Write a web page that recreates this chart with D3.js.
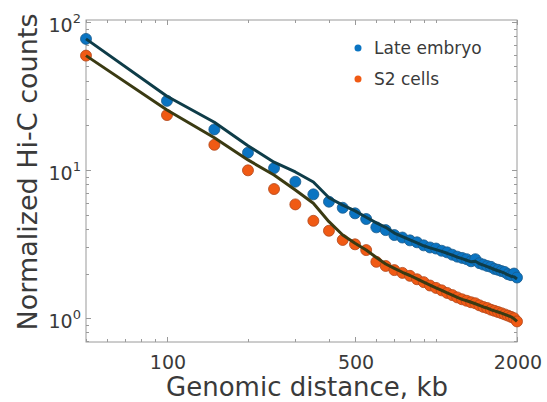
<!DOCTYPE html>
<html>
<head>
<meta charset="utf-8">
<script src="https://cdn.jsdelivr.net/npm/d3@7"></script>
<style>
  body { margin: 0; background: #fff; }
  svg { font-family: "DejaVu Sans", sans-serif; }
</style>
</head>
<body>
<svg width="547" height="402"></svg>
<script>
// genomic distance, kb
const distances = [50, 100, 150, 200, 250, 300, 350, 400, 450, 500,
  550, 600, 650, 700, 750, 800, 850, 900, 950, 1000,
  1050, 1100, 1150, 1200, 1250, 1300, 1350, 1400, 1450, 1500,
  1550, 1600, 1650, 1700, 1750, 1800, 1850, 1900, 1950, 2000];

// measured points
const embryoPts = [76.8, 29.3, 18.8, 13.1, 10.3, 8.34, 6.85, 6.11, 5.56, 5.10,
  4.67, 4.10, 3.93, 3.64, 3.5, 3.35, 3.25, 3.1, 3.0, 2.95,
  2.85, 2.78, 2.68, 2.6, 2.55, 2.5, 2.42, 2.5, 2.35, 2.3,
  2.25, 2.22, 2.15, 2.12, 2.08, 2.05, 1.98, 1.95, 2.0, 1.88];
const s2Pts = [59.2, 23.5, 14.8, 9.95, 7.44, 5.86, 4.54, 3.89, 3.37, 3.15,
  2.88, 2.40, 2.25, 2.11, 2.02, 1.93, 1.83, 1.75, 1.66, 1.6,
  1.54, 1.48, 1.43, 1.38, 1.34, 1.31, 1.28, 1.26, 1.22, 1.19,
  1.17, 1.14, 1.12, 1.1, 1.08, 1.06, 1.04, 1.02, 1.0, 0.95];

// model curves
const embryoFit = [76.8, 31.5, 21.0, 14.6, 11.3, 9.7, 8.3, 6.5, 5.8, 5.3,
  4.8, 4.4, 4.1, 3.75, 3.55, 3.38, 3.22, 3.08, 2.98, 2.9,
  2.82, 2.74, 2.66, 2.58, 2.52, 2.46, 2.4, 2.42, 2.33, 2.28,
  2.23, 2.18, 2.13, 2.09, 2.05, 2.01, 1.96, 1.92, 1.9, 1.84];
const s2Fit = [59.2, 25.4, 16.5, 11.7, 9.25, 7.33, 5.96, 4.48, 3.64, 3.2,
  2.88, 2.57, 2.32, 2.17, 2.04, 1.94, 1.84, 1.75, 1.67, 1.6,
  1.54, 1.48, 1.43, 1.38, 1.34, 1.31, 1.28, 1.25, 1.22, 1.19,
  1.17, 1.14, 1.12, 1.1, 1.08, 1.06, 1.04, 1.02, 0.99, 0.95];

const xTickLabels = [100, 500, 2000];
const yTickLabels = [1, 10, 100];
const seriesNames = ["Late embryo", "S2 cells"];

const svg = d3.select("svg");
const area = { left: 86, right: 517, top: 20, bottom: 342 };
const textColor = "#3a3a3a";
const axisColor = "#9a9a9a";

const scX = d3.scaleLog().domain([50, 2000]).range([area.left, area.right]);
const scY = d3.scaleLog().domain([0.69, 103]).range([area.bottom, area.top]);

// box
svg.append("rect")
  .attr("x", area.left).attr("y", area.top)
  .attr("width", area.right - area.left).attr("height", area.bottom - area.top)
  .style("fill", "none").style("stroke", axisColor).style("stroke-width", 1);

// ticks (inward, all four sides)
const xMinor = scX.ticks();
const yMinor = scY.ticks();
const tickG = svg.append("g").style("stroke", axisColor).style("stroke-width", 1);
xMinor.forEach(v => {
  const len = xTickLabels.includes(v) ? 5 : 3;
  const x = Math.round(scX(v)) + 0.5;
  tickG.append("line").attr("x1", x).attr("x2", x).attr("y1", area.bottom).attr("y2", area.bottom - len);
  tickG.append("line").attr("x1", x).attr("x2", x).attr("y1", area.top).attr("y2", area.top + len);
});
yMinor.forEach(v => {
  const len = yTickLabels.includes(v) ? 5 : 3;
  const y = Math.round(scY(v)) + 0.5;
  tickG.append("line").attr("y1", y).attr("y2", y).attr("x1", area.left).attr("x2", area.left + len);
  tickG.append("line").attr("y1", y).attr("y2", y).attr("x1", area.right).attr("x2", area.right - len);
});

// x tick labels
svg.append("g").selectAll("text")
  .data(xTickLabels).enter().append("text")
  .attr("x", d => scX(d) + 1)
  .attr("y", area.bottom + 27)
  .attr("text-anchor", "middle")
  .style("font-size", "19px")
  .style("fill", textColor)
  .text(d => d);

// y tick labels 10^n
const yl = svg.append("g").selectAll("text")
  .data(yTickLabels).enter().append("text")
  .attr("x", area.left - 5)
  .attr("y", d => scY(d) + 10)
  .attr("text-anchor", "end")
  .style("fill", textColor);
yl.append("tspan").style("font-size", "19px").text("10");
yl.append("tspan").style("font-size", "13px").attr("dy", -9).text(d => Math.round(Math.log10(d)));

// axis titles
svg.append("text")
  .attr("x", 307)
  .attr("y", 396)
  .attr("text-anchor", "middle")
  .style("font-size", "26px")
  .style("fill", textColor)
  .text("Genomic distance, kb");

svg.append("text")
  .attr("transform", `translate(37, 172) rotate(-90)`)
  .attr("text-anchor", "middle")
  .style("font-size", "27px")
  .style("fill", textColor)
  .text("Normalized Hi-C counts");

// points
function drawDots(values, fill, stroke) {
  svg.append("g").selectAll("circle")
    .data(distances.map((d, i) => [d, values[i]]))
    .enter().append("circle")
    .attr("cx", d => scX(d[0]))
    .attr("cy", d => scY(d[1]))
    .attr("r", 5.5)
    .style("fill", fill)
    .style("stroke", stroke)
    .style("stroke-width", 0.8);
}
drawDots(embryoPts, "#0a74c2", "#1a5a8a");
drawDots(s2Pts, "#F05A14", "#b0461a");

// fitted curves
function drawLine(values, color) {
  const line = d3.line()
    .x(d => scX(d[0]))
    .y(d => scY(d[1]));
  svg.append("path")
    .datum(distances.map((d, i) => [d, values[i]]))
    .attr("d", line)
    .style("fill", "none")
    .style("stroke", color)
    .style("stroke-width", 3)
    .style("stroke-linejoin", "round");
}
drawLine(embryoFit, "#0e3c48");
drawLine(s2Fit, "#3a3a12");

// legend
const legend = svg.append("g").selectAll("g")
  .data(seriesNames).enter().append("g")
  .attr("transform", (d, i) => `translate(358, ${48 + i * 31})`);
legend.append("circle")
  .attr("r", 3.5)
  .style("fill", (d, i) => i == 0 ? "#0a74c2" : "#F05A14");
legend.append("text")
  .attr("x", 16)
  .attr("y", 6)
  .style("font-size", "17px")
  .style("fill", textColor)
  .text(d => d);
</script>
</body>
</html>
